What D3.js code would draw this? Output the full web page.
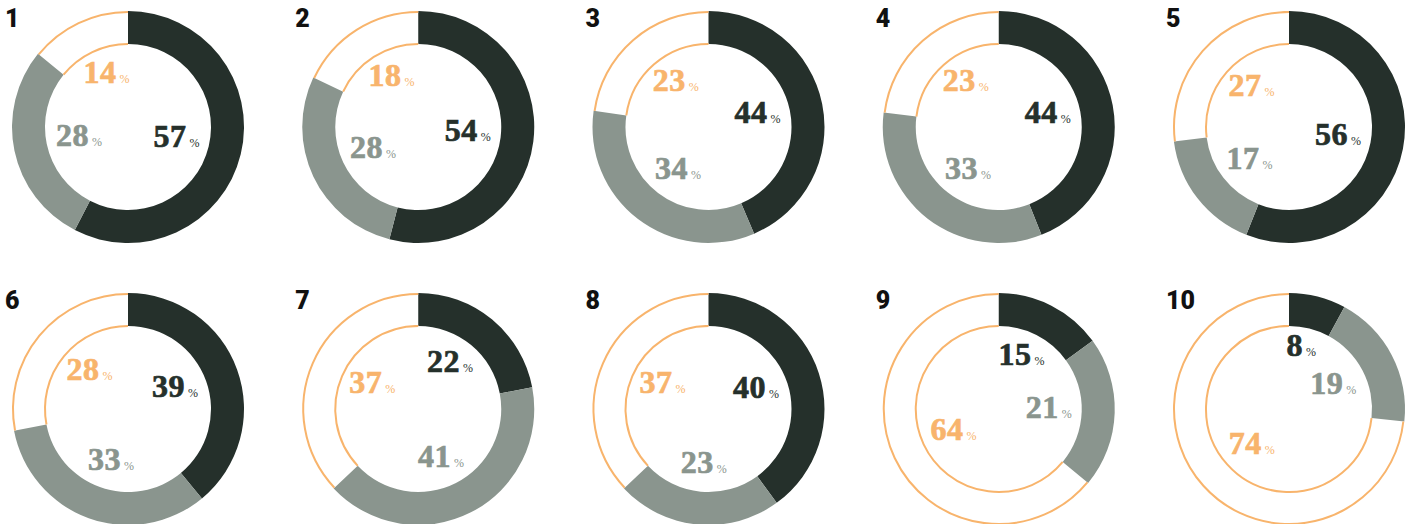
<!DOCTYPE html>
<html>
<head>
<meta charset="utf-8">
<script src="https://cdn.jsdelivr.net/npm/d3@7"></script>
<style>
  body { margin: 0; background: #fff; }
</style>
</head>
<body>
<div id="chart"></div>
<script>
// chart data
var chartIds = ["1", "2", "3", "4", "5", "6", "7", "8", "9", "10"];
var darkValues = [57, 54, 44, 44, 56, 39, 22, 40, 15, 8];
var grayValues = [28, 28, 34, 33, 17, 33, 41, 23, 21, 19];
var restValues = [14, 18, 23, 23, 27, 28, 37, 37, 64, 74];

var width = 1413;
var height = 524;
var outerR = 116;
var innerR = 83;
// labels sit on a slightly tall ellipse inside the hole
var labelRx = 50;
var labelRy = 57;
var labelGap = 38;

var colors = {
    dark: '#25302b',
    gray: '#8a958e',
    rest: '#f8b46c'
};

var svg = d3.select('#chart')
    .append('svg')
    .attr('width', width)
    .attr('height', height);

// grid of small donuts
var col = d3.scaleLinear().domain([0, 4]).range([128, 1289]);
var row = d3.scaleLinear().domain([0, 1]).range([127, 409]);

var pie = d3.pie()
    .sort(null)
    .value(function (d) { return d.value; });

var ringArc = d3.arc().innerRadius(innerR).outerRadius(outerR);
var outerLine = d3.arc().innerRadius(outerR - 1).outerRadius(outerR - 1);
var innerLine = d3.arc().innerRadius(innerR).outerRadius(innerR);

chartIds.forEach(function (id, i) {
    var cx = col(i % 5);
    var cy = row(Math.floor(i / 5));

    var slices = pie([
        { key: 'dark', value: darkValues[i] },
        { key: 'gray', value: grayValues[i] },
        { key: 'rest', value: restValues[i] }
    ]);

    var g = svg.append('g')
        .attr('transform', 'translate(' + cx + ',' + cy + ')');

    // filled segments
    g.selectAll('path.seg')
        .data(slices.filter(function (d) { return d.data.key !== 'rest'; }))
        .enter()
        .append('path')
        .attr('class', 'seg')
        .attr('d', ringArc)
        .attr('fill', function (d) { return colors[d.data.key]; });

    // the rest is only outlined
    var rest = slices[2];
    g.append('path')
        .attr('d', outerLine(rest))
        .attr('fill', 'none')
        .attr('stroke', colors.rest)
        .attr('stroke-width', 2);
    g.append('path')
        .attr('d', innerLine(rest))
        .attr('fill', 'none')
        .attr('stroke', colors.rest)
        .attr('stroke-width', 2);

    // value labels
    var labels = g.selectAll('text.val')
        .data(slices)
        .enter()
        .append('text')
        .attr('class', 'val')
        .attr('text-anchor', 'middle')
        .attr('fill', function (d) { return colors[d.data.key]; })
        .style('font-family', '"Liberation Serif", serif')
        .style('font-weight', 'bold');

    labels.append('tspan')
        .style('font-size', '32px')
        .style('letter-spacing', '0.5px')
        .attr('stroke', function (d) { return colors[d.data.key]; })
        .attr('stroke-width', 0.7)
        .text(function (d) { return d.data.value; });

    labels.append('tspan')
        .attr('dx', 3)
        .style('font-size', '12px')
        .style('font-weight', 'normal')
        .text('%');

    // start each label at its slice's middle angle
    var pos = slices.map(function (d, k) {
        var a = (d.startAngle + d.endAngle) / 2;
        return {
            x: Math.sin(a) * labelRx,
            y: -Math.cos(a) * labelRy - 3,
            w: labels.nodes()[k].getComputedTextLength()
        };
    });

    // push apart labels that would collide
    for (var it = 0; it < 10; it++) {
        for (var a = 0; a < pos.length; a++) {
            for (var b = a + 1; b < pos.length; b++) {
                var p = pos[a], q = pos[b];
                var dx = Math.abs(p.x - q.x);
                var dy = q.y - p.y;
                if (dx < (p.w + q.w) / 2 && Math.abs(dy) < labelGap) {
                    var shift = (labelGap - Math.abs(dy)) / 2;
                    var dir = dy >= 0 ? 1 : -1;
                    p.y -= shift * dir;
                    q.y += shift * dir;
                }
            }
        }
    }

    labels.attr('transform', function (d, k) {
        return 'translate(' + pos[k].x + ',' + (pos[k].y + 10) + ')';
    });

    // chart number
    svg.append('text')
        .attr('x', cx - 123)
        .attr('y', cy - 100)
        .style('font-family', 'Roboto, "Liberation Sans", sans-serif')
        .style('font-weight', '900')
        .style('font-size', '25px')
        .attr('fill', '#111')
        .text(id);
});
</script>
</body>
</html>
